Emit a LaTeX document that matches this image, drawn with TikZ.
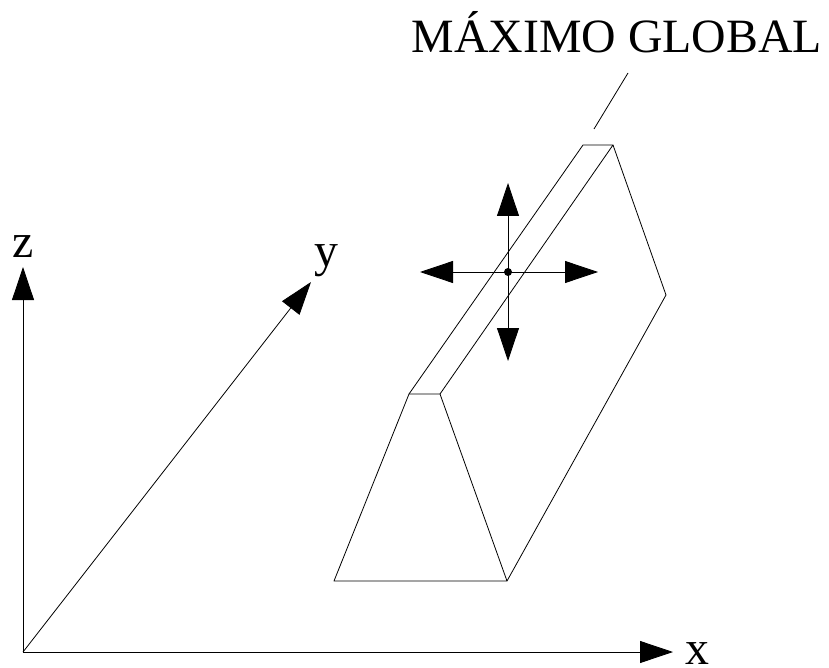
\documentclass[tikz,border=0pt]{standalone}
\usepackage{fontspec}
\setmainfont{Liberation Serif}
\usetikzlibrary{arrows.meta}
\tikzset{
 ln/.style={line width=0.8pt,black},
 arr/.style={ln,-{Triangle[length=33pt,width=22pt]}},
 lab/.style={inner sep=0pt,anchor=base,font=\fontsize{47.8}{48}\selectfont,text=black}
}
\begin{document}
\begin{tikzpicture}[x=1pt,y=-1pt]
\useasboundingbox (0,0) rectangle (829,668);
\coordinate (o) at (23,652);
\coordinate (zt) at (23,267);
\coordinate (xt) at (673,652);
\coordinate (yt) at (311,282);
\draw[arr] (o)--(zt);
\draw[arr] (o)--(xt);
\draw[arr] (o)--(yt);
\node[lab] (zl) at (23,258) {z};
\node[lab] (xl) at (697,664.5) {x};
\node[lab] (yl) at (326.5,266) {y};
\node[lab] (title) at (617,53) {MÁXIMO GLOBAL};
\coordinate (t1) at (628,73);
\coordinate (t2) at (594,129);
\draw[ln] (t1)--(t2);
\coordinate (a) at (334,581);
\coordinate (b) at (507,581);
\coordinate (c) at (409,394);
\coordinate (d) at (440,394);
\coordinate (e) at (583,145);
\coordinate (f) at (613,145);
\coordinate (g) at (666,295);
\draw[ln,line join=round] (a)--(b)--(d)--(c)--cycle;
\draw[ln,line join=round] (c)--(e)--(f)--(d);
\draw[ln,line join=round] (f)--(g)--(b);
\coordinate (m) at (508,272);
\coordinate (up) at (508,183);
\coordinate (dn) at (508,361);
\coordinate (lf) at (420,272);
\coordinate (rt) at (598,272);
\draw[arr] (m)--(up);
\draw[arr] (m)--(dn);
\draw[arr] (m)--(lf);
\draw[arr] (m)--(rt);
\fill (m) circle (4);
\end{tikzpicture}
\end{document}
